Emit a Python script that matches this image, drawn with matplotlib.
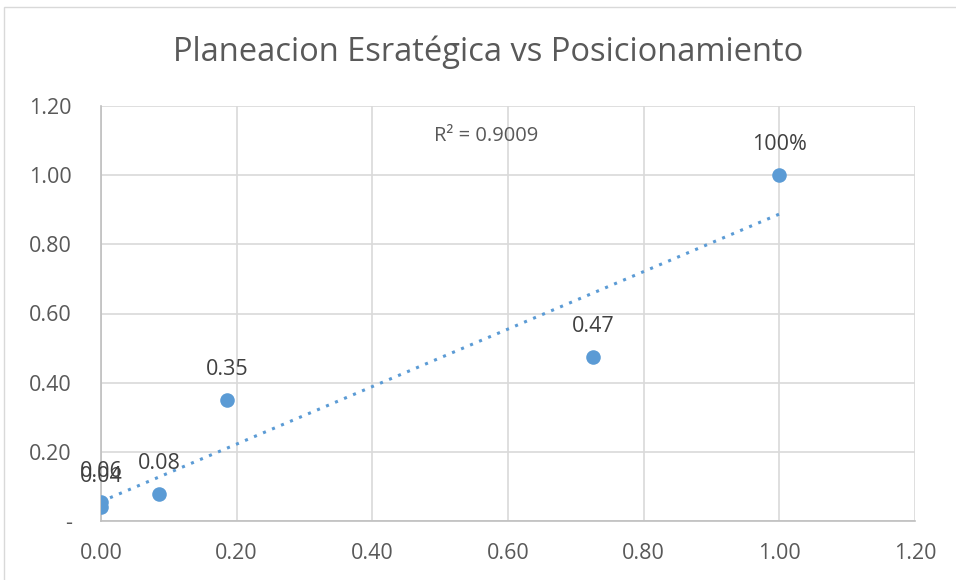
import matplotlib
matplotlib.use("Agg")
import matplotlib.pyplot as plt
import numpy as np
from matplotlib.patches import Rectangle

plt.rcParams['font.family'] = ['Open Sans', 'DejaVu Sans']

title = "Planeacion Esratégica vs Posicionamiento"
x_vals = [0.0, 0.0, 0.086, 0.186, 0.726, 1.0]
y_vals = [0.055, 0.04, 0.078, 0.35, 0.475, 1.0]
point_labels = ["0.06", "0.04", "0.08", "0.35", "0.47", "100%"]
r2_text = "R² = 0.9009"
ticks = [0.0, 0.2, 0.4, 0.6, 0.8, 1.0, 1.2]
x_ticklabels = ["0.00", "0.20", "0.40", "0.60", "0.80", "1.00", "1.20"]
y_ticklabels = ["-", "0.20", "0.40", "0.60", "0.80", "1.00", "1.20"]

color = "#5B9BD5"
text_color = "#595959"
grid_color = "#D9D9D9"

W, H = 956, 580
fig = plt.figure(figsize=(W / 100, H / 100), dpi=100)
ax = fig.add_axes([101 / W, 1 - 521 / H, (915 - 101) / W, (521 - 106) / H])

# chart border
fig.patches.append(Rectangle((4 / W, -0.1), 1.2, 1 - 7 / H + 0.1, transform=fig.transFigure,
                             fill=False, edgecolor="#D9D9D9", linewidth=1.0))

ax.scatter(x_vals, y_vals, s=110, color=color, zorder=3, linewidths=0)

# linear trendline
coef = np.polyfit(x_vals, y_vals, 1)
xt = np.array([0.0, 1.0])
ax.plot(xt, np.polyval(coef, xt), linestyle=(0, (1, 2.2)), color=color, linewidth=2.2, zorder=2)

for xv, yv, lab in zip(x_vals, y_vals, point_labels):
    ax.annotate(lab, (xv, yv), xytext=(0, 22), textcoords="offset points",
                ha="center", va="center", fontsize=15.5, color="#404040")

ax.text(0.568, 1.113, r2_text, ha="center", va="center", fontsize=14.5, color=text_color)

ax.set_xlim(0, 1.2)
ax.set_ylim(0, 1.2)
ax.set_xticks(ticks)
ax.set_yticks(ticks)
ax.set_xticklabels(x_ticklabels)
ax.set_yticklabels(y_ticklabels)
ax.tick_params(axis="both", length=0, labelsize=15.5, labelcolor=text_color)
ax.tick_params(axis="x", pad=16)
ax.tick_params(axis="y", pad=21)
ax.grid(True, color=grid_color, linewidth=1.2)
ax.set_axisbelow(True)
for s in ["top", "right"]:
    ax.spines[s].set_visible(False)
for s in ["left", "bottom"]:
    ax.spines[s].set_color("#BFBFBF")
    ax.spines[s].set_linewidth(1.2)

fig.text(488 / W, 1 - 52 / H, title, ha="center", va="center", fontsize=23.5, color=text_color)

fig.savefig("out.png", dpi=100)
